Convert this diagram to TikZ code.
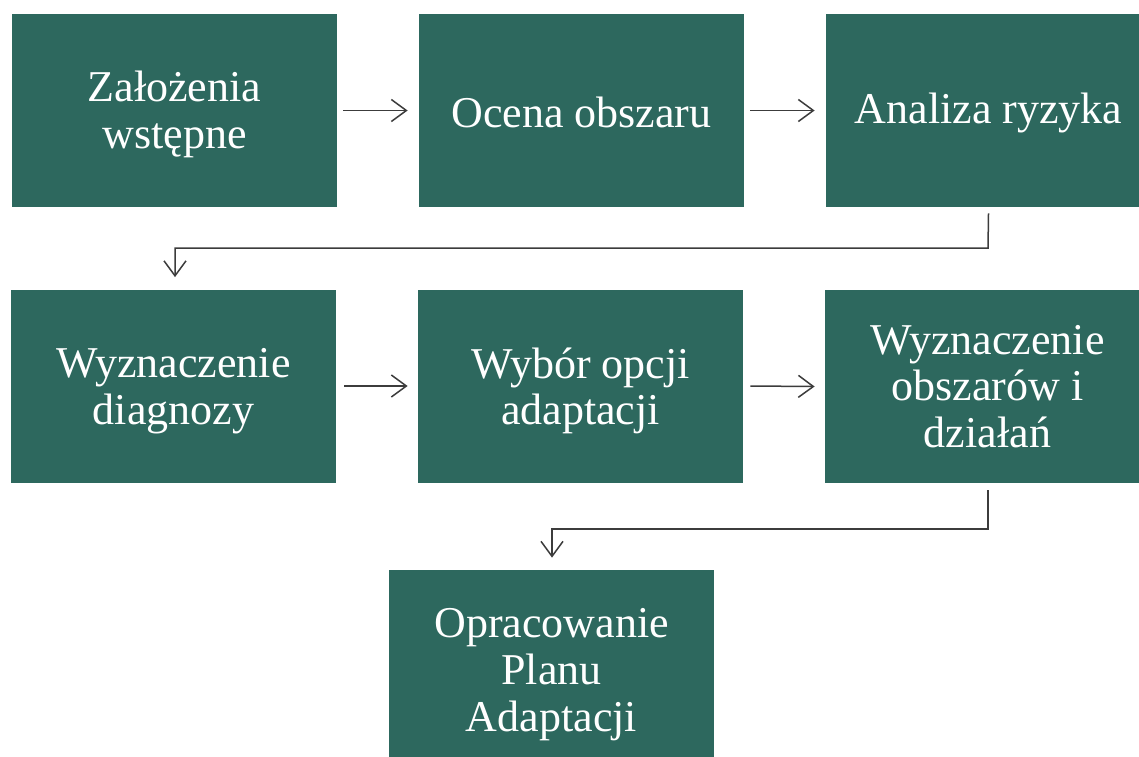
\documentclass[tikz,border=0pt]{standalone}
\usepackage{fontspec}
\setmainfont{Liberation Serif}
\usetikzlibrary{arrows.meta}
\definecolor{boxgreen}{RGB}{45,104,94}
\definecolor{linegray}{RGB}{60,60,60}
\begin{document}
\begin{tikzpicture}[x=0.5pt,y=-0.5pt,
  stepbox/.style={rectangle, fill=boxgreen, draw=none, minimum width=162.5pt,
    minimum height=96.5pt, inner sep=0pt},
  steptext/.style={inner sep=0pt, text=white, align=center,
    font=\fontsize{22}{23.3}\selectfont},
  conn/.style={draw=linegray, line width=0.75pt,
    -{Straight Barb[length=7.5pt,width=11pt,line width=0.75pt]}}]
\clip (0,0) rectangle (1139,756);
\fill[white] (0,0) rectangle (1139,756);
\node[stepbox] (b1) at (174.5,110.5) {};
\node[stepbox] (b2) at (581.5,110.5) {};
\node[stepbox] (b3) at (988.5,110.5) {};
\node[stepbox] (b4) at (173.5,386) {};
\node[stepbox] (b5) at (580.5,386) {};
\node[stepbox] (b6) at (987.5,386.5) {};
\node[stepbox] (b7) at (551.5,666.5) {};
\node[steptext] (t1) at ([yshift=-2pt]b1.center) {Założenia\\wstępne};
\node[steptext] (t2) at ([yshift=-1pt]b2.center) {Ocena obszaru};
\node[steptext] (t3) at ([yshift=-1pt]b3.center) {Analiza ryzyka};
\node[steptext] (t4) at ([yshift=-2.5pt]b4.center) {Wyznaczenie\\diagnozy};
\node[steptext] (t5) at ([yshift=-2.5pt]b5.center) {Wybór opcji\\adaptacji};
\node[steptext] (t6) at ([yshift=0pt]b6.center) {Wyznaczenie\\obszarów i\\działań};
\node[steptext] (t7) at ([yshift=-4pt]b7.center) {Opracowanie\\Planu\\Adaptacji};
\draw[conn] ([xshift=3pt]b1.east) -- ([xshift=-5.5pt]b2.west);
\draw[conn] ([xshift=3pt]b2.east) -- ([xshift=-5.5pt]b3.west);
\draw[conn] ([xshift=4pt]b4.east) -- ([xshift=-5pt]b5.west);
\draw[conn] ([xshift=3.5pt]b5.east) -- ([xshift=-5pt]b6.west);
\coordinate (c1) at (988,248);
\coordinate (c2) at (175,248);
\draw[conn] ([yshift=-3pt]b3.south) -- (c1) -- (c2) -- ([yshift=6pt]b4.north -| c2);
\coordinate (c3) at (988,529);
\coordinate (c4) at (552,529);
\draw[conn] ([yshift=-3.5pt]b6.south -| c3) -- (c3) -- (c4) -- ([yshift=6pt]b7.north -| c4);
\end{tikzpicture}
\end{document}
